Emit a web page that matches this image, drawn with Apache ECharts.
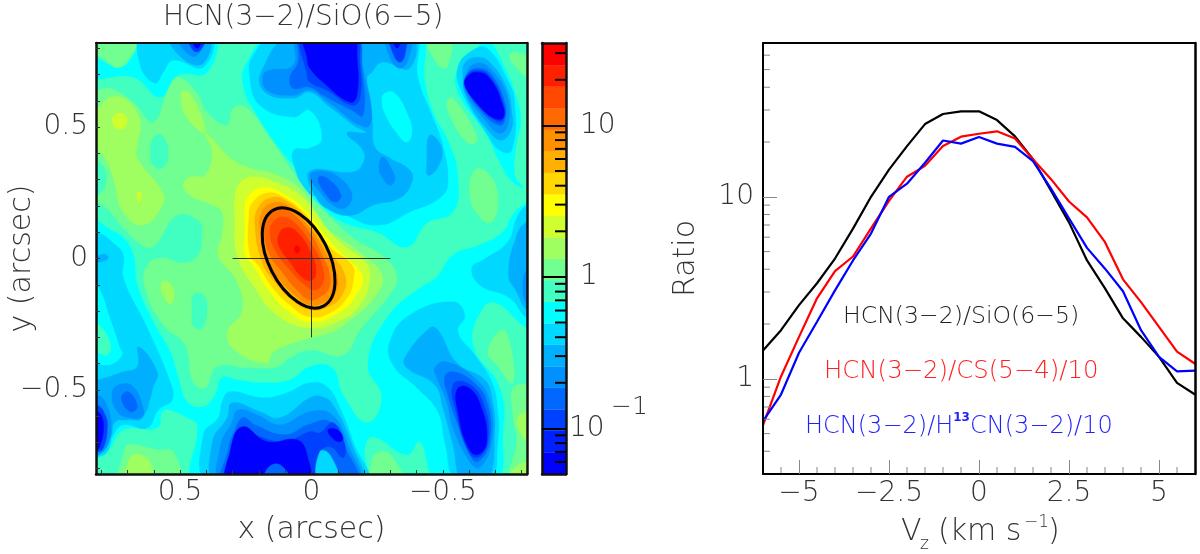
<!DOCTYPE html>
<html><head><meta charset="utf-8">
<style>html,body{margin:0;padding:0;background:#fff}#c{width:1200px;height:554px}</style>
<script src="https://cdn.jsdelivr.net/npm/echarts@6/dist/echarts.min.js"></script>
</head><body><div id="c"></div>
<script>
// ---- right panel data
const velocity=[-6,-5.5,-5,-4.5,-4,-3.5,-3,-2.5,-2,-1.5,-1,-0.5,0,0.5,1,1.5,2,2.5,3,3.5,4,4.5,5,5.5,6];
const ratioSiO=[1.43,1.85,2.54,3.35,4.58,6.69,10,14.1,19,25.1,28.5,29.5,29.5,26.4,21.5,16.1,10.8,7.24,4.47,3.14,2.15,1.7,1.32,0.95,0.82];
const ratioCS=[0.556,1.03,1.7,2.77,3.91,4.7,6.71,9.51,12.9,14.8,19,21.4,22.2,22.9,20.9,16.1,12.5,9.43,7.71,5.63,3.52,2.64,1.93,1.41,1.21];
const ratioH13CN=[0.585,0.82,1.39,2.06,3.06,4.47,6.28,10,11.8,15.4,20.4,19.6,21.3,19.6,18.8,15.7,11.1,7.61,5.24,4.03,3.03,1.85,1.32,1.1,1.11];
const vMajorTicks=[-5,-2.5,0,2.5,5];
const vMinorTicks=[-5.5,-4.5,-4,-3.5,-3,-2,-1.5,-1,-0.5,0.5,1,1.5,2,3,3.5,4,4.5,5.5];
const ratioMajorTicks=[1,10];
const ratioMinorTicks=[0.4,0.5,0.6,0.7,0.8,0.9,2,3,4,5,6,7,8,9,20,30,40,50,60];
// ---- colour scale
const levelEdges=[0.05,0.0693,0.0962,0.133,0.185,0.256,0.356,0.493,0.684,0.948,1.315,1.82,2.53,3.51,4.86,6.75,9.35,12.97,18,24.9,34.6];
const levelColors=['#0000ff','#0020ff','#0040ff','#0068ff','#0090ff','#00b0ff','#00d8ff','#00ffff','#40ffc0','#70ff90','#a0ff60','#d0ff30','#ffff00','#ffd800','#ffb000','#ff9000','#ff6a00','#ff4800','#ff2000','#ff0000'];
const scaleMajorTicks=[0.1,1,10];
const scaleMinorTicks=[0.06,0.07,0.08,0.09,2,3,4,5,6,7,8,9,0.2,0.3,0.4,0.5,0.6,0.7,0.8,0.9,20,30];
// ---- map axes and overlays (arcsec)
const mapTicks=[-0.8,-0.7,-0.6,-0.5,-0.4,-0.3,-0.2,-0.1,0,0.1,0.2,0.3,0.4,0.5,0.6,0.7,0.8];
const mapLabels=[0.5,0,-0.5];
const crossH=[[0.3,0],[-0.3,0]];
const crossV=[[0,0.3],[0,-0.3]];
const beamCenter=[0.049,0.002];
const beamSemiAxes=[0.206,0.114];
const beamTiltDegrees=-62.7;
// ---- filled contours of the ratio map: [level index, x,y, x,y, ...] in arcsec, painted in order
const contourLow=[
[7,.85,.766,.728,.728,.678,.773,.659,.815,.659,.85,.378,.85,.397,.709,.507,.697,.576,.614,.678,.69,.85,.69],
[7,.15,.85,.245,.747,.26,.659,.207,.545,.131,.431,.032,.306,-.002,.241,-.021,.215,-.12,.139,-.249,.101,-.363,.044,-.439,.135,-.538,.177,-.557,.306,-.526,.431,-.462,.557,-.431,.671,-.401,.85],
[7,-.629,.8,-.671,.83,-.743,.709,-.785,.595,-.796,.519,-.781,.443,-.773,.317,-.804,.272,-.766,.291,-.716,.367,-.667,.469,-.564,.621,-.553,.709],
[7,-.85,.211,-.819,.211,-.766,.165,-.728,.101,-.64,.051,-.538,.013,-.477,-.07,-.401,-.12,-.287,-.226,-.215,-.405,-.268,-.53,-.211,-.625,-.12,-.519,-.078,-.416,.006,-.412,.082,-.462,.184,-.473,.283,-.462,.34,-.454,.367,-.519,.412,-.564,.473,-.545,.507,-.454,.538,-.355,.602,-.241,.663,-.101,.678,.013,.716,.078,.777,.116,.815,.143,.85,.143,.85,-.758,.815,-.758,.777,-.735,.716,-.652,.587,-.644,.568,-.583,.538,-.576,.473,-.606,.435,-.633,.435,-.85,-.196,-.85,-.203,-.72,-.234,-.678,-.363,-.747,-.412,-.697,-.481,-.85,-.697,-.85,-.728,-.671,-.716,-.492,-.614,-.329,-.652,-.188,-.705,-.169,-.804,-.253,-.85,-.27],
[8,.815,-.245,.766,-.321,.777,-.367,.815,-.359,.85,-.359,.85,-.245],
[6,.64,.85,.652,.735,.595,.667,.564,.709,.526,.754,.412,.728,.386,.85],
[6,.131,.85,.222,.773,.234,.686,.196,.583,.07,.538,.006,.564,-.04,.458,.006,.42,.067,.412,.063,.344,.017,.253,-.032,.23,-.146,.158,-.26,.127,-.374,.177,-.488,.23,-.519,.291,-.496,.443,-.458,.545,-.405,.686,-.382,.85],
[7,-.279,.629,-.317,.629,-.367,.545,-.382,.481,-.363,.443,-.325,.477,-.279,.553,-.268,.602],
[6,-.614,.792,-.557,.728,-.572,.633,-.667,.477,-.716,.412,-.762,.412,-.773,.595,-.743,.686,-.667,.8],
[6,-.538,-.165,-.583,-.215,-.557,-.279,-.621,-.367,-.686,-.469,-.709,-.583,-.709,-.697,-.678,-.85,-.553,-.85,-.507,-.697,-.481,-.583,-.401,-.492,-.31,-.405,-.298,-.317,-.374,-.215],
[6,-.85,.203,-.819,.203,-.781,.154,-.747,.063,-.652,-.006,-.61,-.036,-.64,-.101,-.754,-.15,-.819,-.226,-.85,-.226],
[6,.006,-.473,.093,-.511,.184,-.53,.31,-.507,.34,-.545,.355,-.606,.412,-.671,.386,-.85,-.203,-.85,-.158,-.697,-.108,-.568,-.059,-.488],
[6,.815,.101,.754,.059,.716,.013,.716,-.074,.625,-.264,.538,-.469,.53,-.538,.583,-.576,.625,-.644,.716,-.633,.754,-.671,.777,-.735,.815,-.754,.85,-.754,.85,-.412,.766,-.405,.72,-.367,.728,-.34,.766,-.226,.815,-.101,.85,-.101,.85,.101],
[5,.07,.85,.192,.709,.177,.633,.07,.61,.006,.633,-.07,.576,-.211,.481,-.23,.519,-.211,.686,-.23,.709,-.268,.747,-.374,.724,-.374,.85],
[5,-.211,.481,-.23,.519,-.241,.424,-.298,.382,-.374,.336,-.382,.291,-.336,.23,-.234,.203,-.154,.165,-.07,.184,-.013,.241,.006,.332,-.158,.329,-.196,.363,-.196,.412,-.135,.477],
[5,-.45,.469,-.496,.42,-.481,.348,-.443,.317,-.439,.367],
[5,.538,.85,.492,.762,.412,.743,.393,.85],
[5,-.576,.697,-.583,.743,-.629,.766,-.678,.747,-.743,.648,-.762,.557,-.762,.496,-.724,.45,-.678,.481,-.591,.61],
[5,-.45,-.264,-.481,-.272,-.553,-.397,-.659,-.462,-.686,-.53,-.697,-.659,-.667,-.85,-.576,-.85,-.538,-.709,-.5,-.568,-.469,-.481,-.363,-.416,-.355,-.378],
[5,-.85,.139,-.819,.139,-.781,.089,-.75,-.063,-.781,-.127,-.819,-.196,-.85,-.196],
[5,.006,-.53,.12,-.606,.196,-.583,.302,-.549,.321,-.606,.378,-.701,.355,-.85,-.184,-.85,-.154,-.709,-.082,-.557,-.04,-.526],
[5,.815,-.462,.716,-.431,.663,-.412,.659,-.336,.587,-.431,.602,-.488,.644,-.606,.701,-.614,.747,-.621,.762,-.671,.792,-.735,.85,-.745,.85,-.462],
[5,.815,.01,.789,.017,.773,.002,.804,-.013,.85,-.013,.85,.01],
[4,.051,.85,.07,.735,.158,.716,.184,.697,.169,.64,.07,.621,.006,.64,-.063,.595,-.203,.5,-.23,.538,-.196,.724,-.165,.85],
[4,.511,.85,.473,.781,.435,.773,.405,.85],
[4,-.287,.85,-.298,.766,-.336,.724,-.367,.754,-.374,.85],
[4,-.272,.386,-.31,.329,-.317,.298,-.298,.279,-.268,.31,-.257,.348],
[4,.006,.317,-.044,.333,-.108,.306,-.154,.241,-.127,.192,-.082,.203,-.032,.253],
[4,-.591,.709,-.629,.743,-.678,.724,-.743,.621,-.747,.507,-.716,.477,-.667,.519,-.583,.64],
[4,-.469,-.416,-.515,-.393,-.629,-.462,-.678,-.545,-.686,-.697,-.64,-.796,-.602,-.773,-.538,-.644,-.515,-.545,-.477,-.454],
[4,-.804,-.101,-.819,-.169,-.85,-.169,-.85,-.04,-.819,-.044],
[4,.006,-.583,.12,-.633,.207,-.595,.279,-.576,.302,-.621,.348,-.72,.336,-.85,-.173,-.85,-.139,-.709,-.078,-.595],
[4,.758,-.507,.72,-.477,.678,-.488,.644,-.557,.644,-.602,.69,-.606,.739,-.583],
[4,.815,-.519,.785,-.545,.762,-.633,.777,-.709,.815,-.747,.85,-.747,.85,-.519],
[3,.04,.85,.051,.747,.082,.69,.07,.648,.006,.652,-.044,.621,-.154,.564,-.196,.545,-.192,.724,-.165,.85],
[3,-.025,.306,-.059,.306,-.112,.241,-.089,.215,-.051,.249],
[3,-.595,.705,-.64,.724,-.686,.697,-.735,.595,-.735,.526,-.716,.507,-.652,.553,-.591,.648],
[3,-.507,-.45,-.538,-.431,-.614,-.469,-.667,-.545,-.678,-.697,-.633,-.773,-.602,-.747,-.553,-.621,-.519,-.519],
[3,.013,-.633,.101,-.671,.215,-.633,.26,-.606,.291,-.652,.317,-.728,.329,-.85,-.165,-.85,-.127,-.716,-.07,-.621],
[3,.724,-.53,.697,-.507,.663,-.564,.69,-.583],
[2,.032,.85,.017,.697,.006,.671,-.059,.64,-.154,.583,-.184,.61,-.184,.747,-.165,.85],
[2,.469,.85,.45,.792,.424,.792,.405,.85],
[2,-.298,.85,-.31,.781,-.336,.747,-.355,.773,-.355,.85],
[2,-.591,.697,-.633,.716,-.682,.69,-.731,.587,-.731,.53,-.705,.522,-.633,.583,-.587,.652],
[2,-.538,-.481,-.591,-.473,-.652,-.545,-.671,-.697,-.629,-.758,-.591,-.72,-.553,-.595],
[2,.006,-.659,.101,-.697,.215,-.671,.253,-.644,.302,-.747,.31,-.85,-.017,-.85,-.025,-.747,-.07,-.716,-.12,-.758,-.127,-.709,-.082,-.625,-.032,-.663],
[2,.815,-.557,.785,-.595,.777,-.644,.792,-.72,.815,-.735,.85,-.735,.85,-.557],
[6,-.032,-.735,-.07,-.747,-.101,-.85,-.025,-.85],
[0,.025,.85,.017,.762,.006,.724,-.044,.671,-.146,.595,-.173,.621,-.173,.773,-.158,.85],
[0,-.31,.85,-.325,.8,-.344,.85],
[0,.454,.85,.443,.804,.428,.804,.416,.85],
[0,-.591,.69,-.629,.709,-.678,.686,-.728,.583,-.728,.534,-.686,.538,-.614,.61,-.583,.659],
[0,-.553,-.5,-.591,-.488,-.64,-.549,-.667,-.697,-.629,-.747,-.591,-.709,-.557,-.583],
[0,.31,-.735,.264,-.64,.169,-.697,.055,-.69,.017,-.747,.017,-.85,.313,-.85],
[0,-.063,-.652,-.097,-.652,-.12,-.682,-.108,-.697,-.078,-.682],
[0,.815,-.583,.796,-.606,.792,-.659,.804,-.709,.815,-.728,.85,-.728,.85,-.583],
[3,.165,-.796,.12,-.785,.082,-.85,.177,-.85]
];
const contourHigh=[
[9,.85,.63,.815,.64,.766,.648,.678,.595,.602,.519,.538,.659,.507,.69,.435,.629,.397,.557,.321,.507,.298,.572,.245,.572,.158,.458,.07,.329,.006,.241,-.07,.158,-.158,.078,-.279,.002,-.325,-.074,-.287,-.15,-.184,-.272,-.12,-.367,.006,-.348,.082,-.378,.131,-.412,.245,-.416,.359,-.412,.405,-.492,.45,-.469,.481,-.329,.564,-.253,.633,-.112,.625,-.025,.568,.002,.488,-.017,.431,.013,.416,.089,.424,.139,.511,.165,.595,.051,.633,.044,.716,.116,.766,.177,.815,.215,.85,.215],
[8,.82,.374,.785,.336,.785,.279,.815,.241,.85,.241,.85,.374],
[8,.614,.405,.595,.469,.564,.462,.545,.393,.568,.344,.602,.355],
[8,.45,-.139,.412,-.139,.397,-.188,.416,-.264,.45,-.257,.454,-.203],
[9,.716,-.747,.697,-.709,.587,-.728,.526,-.735,.511,-.85,.728,-.85],
[9,-.234,-.754,-.272,-.735,-.31,-.758,-.344,-.85,-.234,-.85],
[9,-.724,-.272,-.754,-.317,-.766,-.473,-.705,-.405,-.671,-.355],
[9,-.77,-.488,-.85,-.507,-.85,-.85,-.754,-.85,-.781,-.697,-.766,-.595],
[9,-.439,.85,-.526,.85,-.515,.728,-.477,.743],
[9,-.515,.595,-.538,.61,-.629,.469,-.621,.439,-.591,.443,-.538,.519],
[9,-.621,.336,-.667,.329,-.709,.241,-.686,.139,-.64,.158,-.602,.241],
[9,-.754,.773,-.785,.785,-.85,.747,-.85,.68,-.781,.724],
[9,.85,.85,.671,.85,.728,.728,.815,.773,.85,.773],
[10,.815,.572,.766,.614,.701,.602,.652,.519,.663,.431,.663,.382,.568,.253,.568,.203,.64,.127,.716,.177,.754,.306,.785,.382,.815,.412,.85,.412,.85,.572],
[10,.488,.64,.45,.61,.405,.481,.473,.534,.496,.61],
[10,.405,.477,.367,.443,.31,.382,.234,.344,.131,.317,.032,.253,-.044,.127,-.12,.07,-.196,.013,-.268,-.063,-.241,-.146,-.139,-.241,-.07,-.283,.006,-.302,.146,-.355,.169,-.397,.283,-.355,.321,-.283,.264,-.203,.283,-.089,.355,.013,.34,.089,.34,.177,.374,.203,.462,.241,.488,.279,.462,.31,.405,.317,.378,.405],
[10,.568,-.089,.545,-.089,.522,-.131,.538,-.173,.568,-.131],
[10,.69,-.758,.652,-.747,.614,-.777,.614,-.85,.701,-.85],
[10,-.785,-.606,-.85,-.583,-.85,-.71,-.8,-.671],
[10,-.766,-.804,-.85,-.77,-.85,-.85,-.754,-.85],
[11,.75,.545,.709,.545,.709,.5,.75,.5],
[11,.663,.249,.648,.249,.655,.211],
[11,.291,.23,.272,.287,.222,.31,.131,.287,.032,.23,-.07,.101,-.12,.051,-.203,-.013,-.222,-.074,-.184,-.177,-.097,-.241,.006,-.264,.131,-.215,.222,-.101,.283,.013,.291,.154],
[12,.253,.192,.245,.23,.196,.268,.12,.253,.017,.177,-.059,.078,-.108,.025,-.192,-.063,-.177,-.127,-.108,-.203,.006,-.241,.093,-.196,.169,-.112,.222,-.025,.253,.013,.253,.089],
[13,.238,.165,.222,.215,.169,.249,.108,.234,.013,.158,-.07,.044,-.154,-.025,-.158,-.089,-.135,-.15,-.07,-.207,.006,-.222,.082,-.177,.15,-.108,.203,-.025,.234,.013],
[14,.215,.127,.203,.192,.158,.23,.101,.222,.006,.139,-.063,.032,-.127,-.063,-.116,-.139,-.063,-.184,.006,-.196,.074,-.158,.139,-.089,.188,-.013],
[15,.196,.116,.188,.177,.15,.211,.093,.203,.006,.116,-.051,.025,-.097,-.063,-.093,-.127,-.051,-.165,.006,-.177,.063,-.139,.127,-.074,.173,-.006],
[16,.181,.108,.165,.162,.139,.192,.089,.184,.006,.097,-.04,.013,-.07,-.063,-.063,-.12,-.032,-.146,.006,-.158,.055,-.12,.112,-.051,.158,.013],
[17,.158,.101,.146,.139,.112,.158,.063,.135,-.002,.051,-.04,-.025,-.044,-.089,-.013,-.12,.025,-.101,.082,-.044,.139,.032],
[18,.127,.082,.101,.116,.055,.101,-.002,.013,-.017,-.051,-.002,-.082,.032,-.074,.082,-.013,.12,.04],
[19,.063,.044,.051,.048,.044,.032,.051,.021,.063,.025]
];
const contourRings=contourLow.concat(contourHigh);

const FONT='"DejaVu Sans"';
const WEIGHT=200;
const INK='#333';
const frameX=(g)=>({gridIndex:g,type:'value',axisLine:{show:true,onZero:false,lineStyle:{color:'#111',width:2.5}},axisTick:{show:false},axisLabel:{show:false},splitLine:{show:false},z:10});
const labelStyle={show:true,fontFamily:FONT,fontWeight:WEIGHT,fontSize:28,color:INK};
const nameStyle={fontFamily:FONT,fontWeight:WEIGHT,fontSize:30,color:INK};
const minus=v=>String(v).replace('-','\u2212');
const gtext=(x,y,text,size,fill)=>({type:'text',x,y,style:{text,fontFamily:FONT,fontWeight:WEIGHT,fontSize:size,fill,align:'left',verticalAlign:'middle'}});

function tickSeries(xIdx,yIdx,values,isX,edge,len,color,width){
  return {type:'custom',xAxisIndex:xIdx,yAxisIndex:yIdx,z:6,silent:true,clip:false,
    data:values.map(v=>isX?[v,edge]:[edge,v]),
    renderItem:(p,api)=>{
      const c=api.coord(isX?[api.value(0),edge]:[edge,api.value(1)]);
      const e=isX?[c[0],c[1]-len]:[c[0]+(len*(edge===1?-1:1)),c[1]];
      return {type:'line',shape:{x1:c[0],y1:c[1],x2:e[0],y2:e[1]},style:{stroke:color,lineWidth:width}};
    }};
}

const option={
  animation:false,backgroundColor:'#fff',
  title:{text:'HCN(3\u22122)/SiO(6\u22125)',left:158,top:-1,textStyle:{fontFamily:FONT,fontWeight:WEIGHT,fontSize:28,color:INK}},
  grid:[
    {left:96,top:43,width:431,height:431,show:true,borderWidth:0,backgroundColor:levelColors[8],outerBoundsMode:'none'},
    {left:542,top:43,width:24,height:431,outerBoundsMode:'none'},
    {left:763,top:43,width:432,height:431,outerBoundsMode:'none'}
  ],
  xAxis:[
    {...frameX(0),min:-0.82,max:0.82,inverse:true,position:'bottom',
      name:'x (arcsec)',nameLocation:'middle',nameGap:41,nameMoveOverlap:false,nameTextStyle:nameStyle,
      axisTick:{show:true,inside:true,length:4,customValues:mapTicks,lineStyle:{color:'#333',width:1}},
      axisLabel:{...labelStyle,margin:5,customValues:mapLabels,formatter:minus}},
    {...frameX(0),min:-0.82,max:0.82,inverse:true,position:'top',axisLine:{show:true,onZero:false,lineStyle:{color:'#111',width:2}}},
    {...frameX(1),min:0,max:1,position:'bottom'},
    {...frameX(1),min:0,max:1,position:'top'},
    {...frameX(2),min:-6,max:6,position:'bottom',
      axisLine:{show:true,onZero:false,lineStyle:{color:'#000',width:2}},
      axisTick:{show:true,inside:true,length:14,customValues:vMajorTicks,lineStyle:{color:'#888',width:1}},
      axisLabel:{...labelStyle,margin:6,customValues:vMajorTicks,formatter:minus}},
    {...frameX(2),min:-6,max:6,position:'top',axisLine:{show:true,onZero:false,lineStyle:{color:'#000',width:2}}}
  ],
  yAxis:[
    {...frameX(0),min:-0.82,max:0.82,position:'left',
      name:'y (arcsec)',nameLocation:'middle',nameRotate:90,nameGap:59,nameMoveOverlap:false,nameTextStyle:nameStyle,
      axisTick:{show:true,inside:true,length:4,customValues:mapTicks,lineStyle:{color:'#333',width:1}},
      axisLabel:{...labelStyle,margin:8,customValues:mapLabels,formatter:minus}},
    {...frameX(0),min:-0.82,max:0.82,position:'right'},
    {...frameX(1),type:'log',min:0.05,max:35,position:'left'},
    {...frameX(1),type:'log',min:0.05,max:35,position:'right',
      axisTick:{show:true,inside:true,length:24,customValues:scaleMajorTicks,lineStyle:{color:'#000',width:2}},
      axisLabel:{...labelStyle,margin:14,customValues:[1,10],formatter:v=>String(v)}},
    {...frameX(2),type:'log',min:0.3,max:70,position:'left',
      name:'Ratio',nameLocation:'middle',nameRotate:90,nameGap:62,nameMoveOverlap:false,nameTextStyle:nameStyle,
      axisLine:{show:true,onZero:false,lineStyle:{color:'#000',width:2}},
      axisTick:{show:true,inside:true,length:14,customValues:ratioMajorTicks,lineStyle:{color:'#888',width:1}},
      axisLabel:{...labelStyle,margin:9,customValues:ratioMajorTicks,formatter:v=>String(v)}},
    {...frameX(2),type:'log',min:0.3,max:70,position:'right',axisLine:{show:true,onZero:false,lineStyle:{color:'#000',width:2.5}}}
  ],
  series:[
    {type:'custom',xAxisIndex:0,yAxisIndex:0,z:2,silent:true,clip:true,
      data:contourRings.map(r=>[r[1],r[2]]),
      renderItem:(p,api)=>{
        const r=contourRings[p.dataIndex],pts=[];
        for(let i=1;i<r.length;i+=2)pts.push(api.coord([r[i],r[i+1]]));
        const col=levelColors[r[0]];
        return {type:'polygon',shape:{points:pts,smooth:0.45},style:{fill:col,stroke:col,lineWidth:0.4}};
      }},
    {type:'line',xAxisIndex:0,yAxisIndex:0,z:4,data:crossH,showSymbol:false,symbol:'none',lineStyle:{color:'#333',width:1},silent:true},
    {type:'line',xAxisIndex:0,yAxisIndex:0,z:4,data:crossV,showSymbol:false,symbol:'none',lineStyle:{color:'#333',width:1},silent:true},
    {type:'custom',xAxisIndex:0,yAxisIndex:0,z:5,silent:true,clip:true,data:[beamCenter],
      renderItem:(p,api)=>{
        const c=api.coord(beamCenter),s=api.size(beamSemiAxes);
        return {type:'ellipse',x:c[0],y:c[1],rotation:beamTiltDegrees*Math.PI/180,
          shape:{cx:0,cy:0,rx:s[0],ry:s[1]},style:{fill:'none',stroke:'#000',lineWidth:3}};
      }},
    {type:'custom',xAxisIndex:2,yAxisIndex:2,z:2,silent:true,
      data:levelColors.map((c,i)=>[0.5,levelEdges[i]]),
      renderItem:(p,api)=>{
        const i=p.dataIndex,a=api.coord([0,levelEdges[i]]),b=api.coord([1,levelEdges[i+1]]);
        return {type:'rect',shape:{x:a[0],y:b[1],width:b[0]-a[0],height:a[1]-b[1]},style:{fill:levelColors[i],stroke:levelColors[i],lineWidth:0.3}};
      }},
    tickSeries(2,2,scaleMinorTicks,false,1,11,'#000',2),
    {type:'custom',xAxisIndex:2,yAxisIndex:2,z:6,silent:true,clip:false,data:[[1,0.1]],
      renderItem:(p,api)=>{
        const c=api.coord([1,0.1]);
        return {type:'text',x:c[0]+3,y:c[1],style:{text:'10',fontFamily:FONT,fontWeight:WEIGHT,fontSize:28,fill:INK,align:'left',verticalAlign:'middle'}};
      }},
    tickSeries(4,4,vMinorTicks,true,0.3,7,'#888',1),
    tickSeries(4,4,ratioMinorTicks,false,-6,7,'#888',1),
    {name:'HCN(3-2)/SiO(6-5)',type:'line',xAxisIndex:4,yAxisIndex:4,z:4,symbol:'none',lineStyle:{color:'#000',width:2.2},data:velocity.map((v,i)=>[v,ratioSiO[i]])},
    {name:'HCN(3-2)/CS(5-4)/10',type:'line',xAxisIndex:4,yAxisIndex:4,z:4,symbol:'none',lineStyle:{color:'#ff0000',width:2.2},data:velocity.map((v,i)=>[v,ratioCS[i]])},
    {name:'HCN(3-2)/H13CN(3-2)/10',type:'line',xAxisIndex:4,yAxisIndex:4,z:5,symbol:'none',lineStyle:{color:'#0000ff',width:2.2},data:velocity.map((v,i)=>[v,ratioH13CN[i]])}
  ],
  graphic:[
    gtext(611,407,'\u22121',25,INK),
    gtext(843,317,'HCN(3\u22122)/SiO(6\u22125)',23.6,'#222'),
    gtext(824,372,'HCN(3\u22122)/CS(5\u22124)/10',24.4,'#ff2020'),
    {type:'text',x:805,y:427,style:{text:'{a|HCN(3\u22122)/H}{s|13}{a|CN(3\u22122)/10}',align:'left',verticalAlign:'middle',
      rich:{a:{fontFamily:FONT,fontWeight:WEIGHT,fontSize:24,fill:'#2020ff',color:'#2020ff',lineHeight:30},s:{fontFamily:FONT,fontWeight:700,fontSize:12,color:'#2020ff',fill:'#2020ff',verticalAlign:'top',lineHeight:30}}}},
    gtext(901,532,'V',30,INK),
    gtext(920,545,'z',17,INK),
    gtext(938,532,'(km s',30,INK),
    gtext(1024,523,'\u22121',17,INK),
    gtext(1048,532,')',30,INK)
  ]
};
echarts.init(document.getElementById('c'),null,{renderer:'canvas'}).setOption(option);
</script></body></html>
